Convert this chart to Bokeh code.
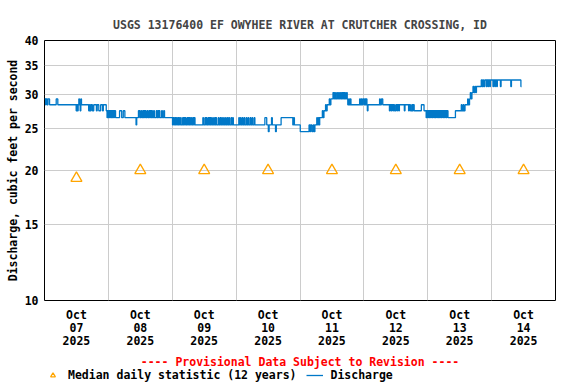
from bokeh.plotting import figure
from bokeh.models import FixedTicker, Legend, LegendItem
from bokeh.layouts import column
from bokeh.embed import file_html
from bokeh.resources import INLINE

# ---------------- data ----------------
# x in hours since 2025-10-07 00:00
day_tick_hours = [12, 36, 60, 84, 108, 132, 156, 180]
day_tick_labels = ["Oct\n07\n2025", "Oct\n08\n2025", "Oct\n09\n2025", "Oct\n10\n2025",
                   "Oct\n11\n2025", "Oct\n12\n2025", "Oct\n13\n2025", "Oct\n14\n2025"]
midnight_hours = [24, 48, 72, 96, 120, 144, 168]
y_ticks = [10, 15, 20, 25, 30, 35, 40]

median_hours = [12, 36, 60, 84, 108, 132, 156, 180]
median_cfs = [19.2, 20.0, 20.0, 20.0, 20.0, 20.0, 20.0, 20.0]

# discharge: (hour at which the reading changes, cfs)
discharge_steps = [
    (0.0, 29.3), (0.4, 28.4), (0.6, 29.3), (1.0, 28.4), (1.3, 29.3), (1.9, 28.4), (4.4, 29.3), (5.0, 28.4),
    (11.9, 27.5), (12.15, 28.4), (12.4, 27.5), (12.65, 28.4), (12.9, 29.3), (13.15, 28.4), (13.4, 27.5),
    (13.65, 29.3), (13.9, 28.4),
    (16.6, 27.5), (16.9, 28.4), (17.2, 27.5), (17.5, 28.4), (18.0, 27.5), (18.5, 28.4), (19.5, 27.5),
    (19.8, 28.4), (20.4, 27.5), (21.1, 28.4), (21.8, 27.5), (22.1, 28.4), (23.2, 27.5),
    (23.5, 26.5), (23.75, 27.5), (24.0, 26.5), (24.25, 27.5), (24.5, 26.5), (24.75, 27.5), (25.0, 26.5),
    (25.25, 27.5), (25.5, 26.5), (25.75, 27.5), (26.0, 26.5), (26.25, 27.5), (26.7, 26.5),
    (28.2, 27.5), (29.0, 26.5), (29.6, 27.5), (30.2, 26.5),
    (34.4, 25.5), (34.65, 26.5), (35.3, 27.5), (35.8, 26.5), (36.2, 27.5), (36.5, 26.5), (36.9, 27.5),
    (37.15, 26.5), (37.4, 27.5), (37.65, 26.5), (37.9, 27.5), (38.15, 26.5), (38.6, 27.5), (38.9, 26.5),
    (39.3, 27.5), (39.55, 26.5), (39.8, 27.5), (40.05, 26.5), (40.3, 27.5), (40.55, 26.5), (41.0, 27.5),
    (41.3, 26.5), (42.0, 27.5), (42.3, 26.5), (42.6, 27.5), (42.85, 26.5), (43.1, 27.5), (43.35, 26.5),
    (44.0, 27.5), (44.3, 26.5), (44.8, 27.5), (45.1, 26.5),
    (48.1, 25.5),
    (48.3, 26.5), (48.6, 25.5), (48.9, 26.5), (49.15, 25.5), (49.4, 26.5), (49.65, 25.5), (50.0, 26.5),
    (50.25, 25.5), (50.5, 26.5), (50.75, 25.5), (51.1, 26.5), (51.35, 25.5), (51.9, 26.5), (52.15, 25.5),
    (52.4, 26.5), (52.65, 25.5), (52.9, 26.5), (53.15, 25.5), (53.6, 26.5), (53.85, 25.5), (54.1, 26.5),
    (54.35, 25.5), (54.6, 26.5), (54.85, 25.5), (55.2, 26.5), (55.45, 25.5), (55.8, 26.5), (56.05, 25.5),
    (56.3, 26.5), (56.55, 25.5),
    (59.5, 26.5), (59.75, 25.5), (60.3, 26.5), (60.55, 25.5), (60.8, 26.5), (61.05, 25.5), (61.5, 26.5),
    (61.75, 25.5), (62.0, 26.5), (62.25, 25.5), (62.5, 26.5), (62.75, 25.5), (63.2, 26.5), (63.45, 25.5),
    (63.9, 26.5), (64.15, 25.5), (64.4, 26.5), (64.65, 25.5), (65.3, 26.5), (65.55, 25.5), (66.0, 26.5),
    (66.25, 25.5), (66.6, 26.5), (66.85, 25.5), (67.3, 26.5), (67.55, 25.5), (68.0, 26.5), (68.25, 25.5),
    (68.7, 26.5), (68.95, 25.5), (69.3, 26.5), (69.55, 25.5), (70.1, 26.5), (70.35, 25.5), (70.7, 26.5),
    (70.95, 25.5),
    (73.0, 26.5), (73.25, 25.5), (73.6, 26.5), (73.85, 25.5), (74.3, 26.5), (74.55, 25.5), (75.0, 26.5),
    (75.25, 25.5), (75.8, 26.5), (76.05, 25.5), (76.5, 26.5), (76.75, 25.5), (77.3, 26.5), (77.55, 25.5),
    (78.0, 26.5), (78.25, 25.5), (78.8, 26.5), (79.05, 25.5),
    (82.8, 26.5), (83.5, 25.5), (84.1, 24.6), (84.4, 25.5), (85.3, 26.5), (85.6, 25.5), (86.8, 24.6),
    (87.1, 25.5), (88.9, 26.5), (93.3, 25.5), (93.6, 26.5), (93.9, 25.5), (96.1, 24.6),
    (99.4, 25.5), (99.7, 24.6), (100.0, 25.5), (100.5, 24.6), (101.0, 25.5), (101.3, 24.6), (101.6, 25.5),
    (102.3, 26.5), (102.55, 25.5), (102.9, 26.5), (103.15, 25.5), (103.4, 26.5),
    (104.4, 27.5), (104.65, 26.5), (105.0, 27.5), (105.6, 28.4), (105.85, 27.5), (106.2, 28.4),
    (107.0, 29.3), (107.25, 28.4), (107.6, 29.3),
    (108.4, 30.3), (108.7, 29.3), (109.0, 30.3), (109.3, 29.3), (109.8, 30.3), (110.1, 29.3), (110.5, 30.3),
    (110.8, 29.3), (111.2, 30.3), (111.5, 29.3), (111.8, 30.3), (112.05, 29.3), (112.3, 30.3),
    (112.55, 29.3), (112.8, 30.3), (113.05, 29.3), (113.5, 30.3), (113.75, 29.3),
    (113.95, 28.4), (114.3, 29.3), (114.55, 28.4), (114.9, 29.3), (115.15, 28.4),
    (118.4, 29.3), (118.65, 28.4), (119.0, 29.3), (119.25, 28.4), (119.6, 29.3), (120.1, 28.4),
    (120.4, 29.3), (120.65, 28.4), (120.9, 29.3), (121.15, 28.4), (121.3, 27.5), (121.55, 28.4),
    (125.9, 29.3), (126.15, 28.4), (126.6, 29.3), (127.1, 28.4),
    (129.6, 27.5), (129.85, 28.4), (130.2, 27.5), (130.45, 28.4), (130.9, 27.5), (131.15, 28.4),
    (131.5, 27.5), (132.0, 28.4), (132.4, 27.5), (132.65, 28.4), (133.1, 27.5), (133.35, 28.4),
    (135.2, 27.5), (135.45, 28.4),
    (136.8, 27.5), (137.05, 28.4), (137.5, 27.5), (138.0, 28.4), (138.3, 27.5), (138.55, 28.4),
    (138.9, 27.5), (141.6, 28.4), (142.6, 27.5),
    (143.4, 26.5), (143.65, 27.5), (144.0, 26.5), (144.25, 27.5), (144.6, 26.5), (144.85, 27.5),
    (145.1, 26.5), (145.35, 27.5), (145.7, 26.5), (145.95, 27.5), (146.3, 26.5), (146.55, 27.5),
    (146.8, 26.5), (147.05, 27.5), (147.4, 26.5), (147.65, 27.5), (148.0, 26.5), (148.25, 27.5),
    (148.5, 26.5), (148.75, 27.5), (149.1, 26.5), (149.35, 27.5), (149.7, 26.5), (149.95, 27.5),
    (150.3, 26.5), (150.55, 27.5), (150.9, 26.5), (151.15, 27.5), (151.6, 26.5),
    (154.4, 27.5), (156.6, 28.4), (156.85, 27.5), (157.3, 28.4), (157.55, 27.5), (158.0, 28.4),
    (159.0, 29.3), (159.25, 28.4), (159.7, 29.3), (160.0, 30.3), (160.25, 29.3), (160.6, 30.3),
    (161.0, 31.3), (161.3, 30.3), (161.7, 31.3), (162.0, 30.3), (162.3, 31.3),
    (164.1, 32.4), (164.4, 31.3), (164.7, 32.4), (165.0, 31.3), (165.4, 32.4), (166.0, 31.3),
    (166.25, 32.4), (166.6, 31.3), (166.85, 32.4), (167.3, 31.3), (167.55, 32.4), (168.5, 31.3),
    (168.75, 32.4), (169.2, 31.3), (169.45, 32.4), (169.9, 31.3), (170.15, 32.4), (171.3, 31.3),
    (171.55, 32.4), (175.2, 31.3), (175.45, 32.4), (179.0, 31.3), (179.25, 31.3),
]
discharge_hours = [h for h, _ in discharge_steps]
discharge_cfs = [q for _, q in discharge_steps]

title_text = "USGS 13176400 EF OWYHEE RIVER AT CRUTCHER CROSSING, ID"
y_label = "Discharge, cubic feet per second"
provisional_text = "---- Provisional Data Subject to Revision ----"

# ---------------- main figure ----------------
FONT = "DejaVu Sans Mono"
FS = "11.5px"
LINE_COLOR = "#0078C8"
TRI_COLOR = "#FFA500"

p = figure(frame_width=511, frame_height=260, y_axis_type="log",
           x_range=(0, 192), y_range=(10, 40),
           output_backend="svg", toolbar_location=None,
           min_border_left=44, min_border_right=21, min_border_top=40, min_border_bottom=52)

p.title.text = title_text
p.title.align = "center"
p.title.text_font = FONT
p.title.text_font_size = FS
p.title.text_font_style = "bold"
p.title.standoff = 17

p.outline_line_color = "black"
p.outline_line_width = 1
p.background_fill_color = "white"
p.border_fill_color = "white"

p.xgrid.ticker = FixedTicker(ticks=midnight_hours)
p.ygrid.ticker = FixedTicker(ticks=y_ticks)
p.grid.grid_line_color = "#CCCCCC"
p.grid.grid_line_width = 1

p.xaxis.ticker = FixedTicker(ticks=day_tick_hours)
p.xaxis.major_label_overrides = {h: lab for h, lab in zip(day_tick_hours, day_tick_labels)}
p.yaxis.ticker = FixedTicker(ticks=y_ticks)
p.yaxis.major_label_overrides = {t: str(t) for t in y_ticks}
p.yaxis.axis_label = y_label
for ax in (p.xaxis[0], p.yaxis[0]):
    ax.axis_line_color = None
    ax.major_tick_line_color = None
    ax.minor_tick_line_color = None
    ax.major_tick_out = 0
    ax.major_tick_in = 0
    ax.minor_tick_out = 0
    ax.minor_tick_in = 0
    ax.major_label_text_font = FONT
    ax.major_label_text_font_size = FS
    ax.major_label_text_font_style = "bold"
    ax.major_label_text_color = "black"
    ax.major_label_text_line_height = 0.94
p.xaxis.major_label_standoff = 7
p.yaxis.major_label_standoff = 6
p.yaxis.axis_label_text_font = FONT
p.yaxis.axis_label_text_font_size = FS
p.yaxis.axis_label_text_font_style = "bold"
p.yaxis.axis_label_text_color = "black"
p.yaxis.axis_label_standoff = 2

p.step(discharge_hours, discharge_cfs, mode="after", line_color=LINE_COLOR, line_width=1.3)
p.scatter(median_hours, median_cfs, marker="triangle", size=11,
          fill_color=None, line_color=TRI_COLOR, line_width=1.3)

# ---------------- footer strip: provisional note + legend ----------------
k = figure(frame_width=511, frame_height=18, x_range=(0, 192), y_range=(0, 1),
           output_backend="svg", toolbar_location=None,
           x_axis_location=None, y_axis_location=None,
           min_border_left=44, min_border_right=21, min_border_top=0, min_border_bottom=0)
k.outline_line_color = None
k.background_fill_color = "white"
k.border_fill_color = "white"
k.grid.visible = False
k.title.text = provisional_text
k.title.align = "center"
k.title.text_color = "red"
k.title.text_font = FONT
k.title.text_font_size = FS
k.title.text_font_style = "bold"
k.title.standoff = 0

# same series, outside this strip's range: they only supply the legend samples
k_line = k.step(discharge_hours, discharge_cfs, mode="after", line_color=LINE_COLOR, line_width=1.3)
k_tri = k.scatter(median_hours, median_cfs, marker="triangle", size=11,
                  fill_color=None, line_color=TRI_COLOR, line_width=1.3)

legend = Legend(items=[LegendItem(label="Median daily statistic (12 years)", renderers=[k_tri]),
                       LegendItem(label="Discharge", renderers=[k_line])],
                orientation="horizontal", location="top_left",
                glyph_width=17, glyph_height=12, label_height=12, label_standoff=7,
                spacing=10, padding=0, margin=0,
                border_line_color=None, background_fill_alpha=0,
                label_text_font=FONT, label_text_font_size=FS, label_text_font_style="bold",
                label_text_color="black")
k.add_layout(legend)

layout = column(p, k, spacing=0)
open("out.html", "w").write(file_html(layout, INLINE))
